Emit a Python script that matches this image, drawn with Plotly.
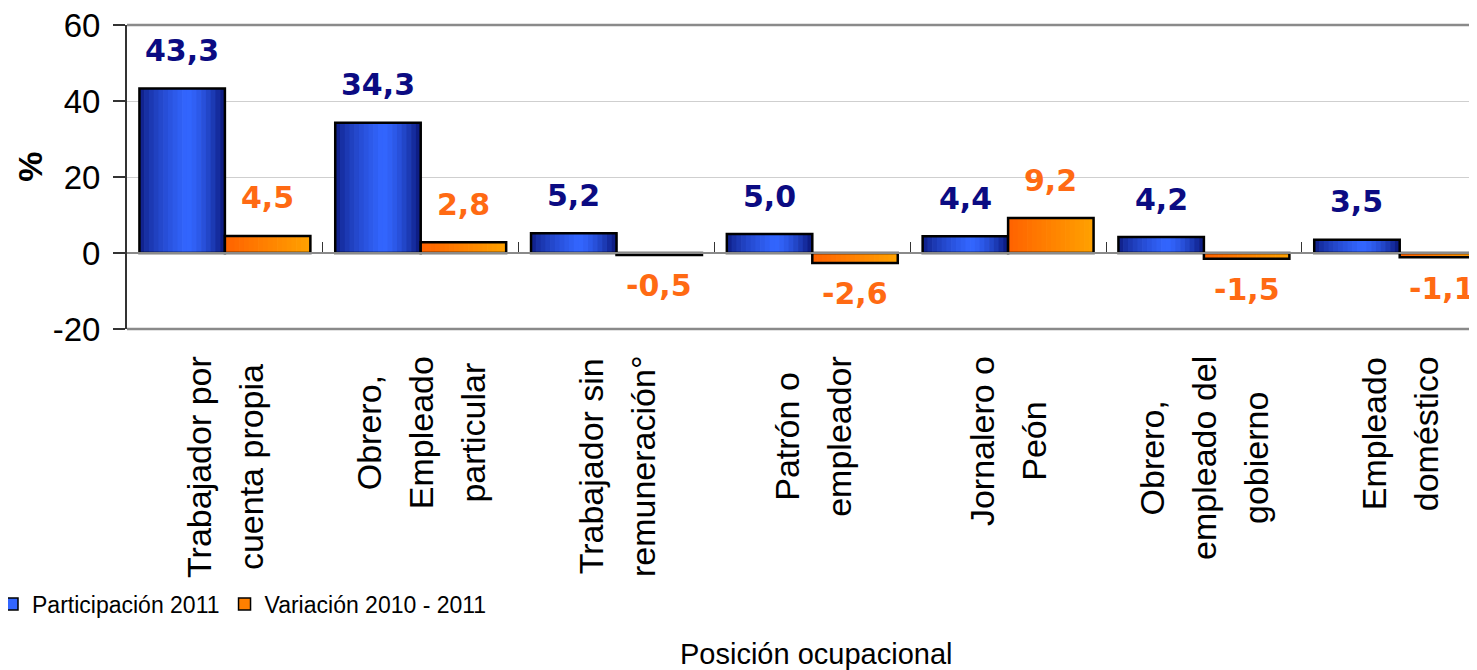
import plotly.graph_objects as go

# datos
categorias = [["Trabajador por", "cuenta propia"], ["Obrero,", "Empleado", "particular"],
              ["Trabajador sin", "remuneración°"], ["Patrón o", "empleador"],
              ["Jornalero o", "Peón"], ["Obrero,", "empleado del", "gobierno"],
              ["Empleado", "doméstico"]]
participacion = [43.3, 34.3, 5.2, 5.0, 4.4, 4.2, 3.5]
variacion = [4.5, 2.8, -0.5, -2.6, 9.2, -1.5, -1.1]
serie_nombres = ["Participación 2011", "Variación 2010 - 2011"]
y_ticks = [-20, 0, 20, 40, 60]
y_ticktext = ["-20", "0", "20", "40", "60"]

idx = list(range(len(categorias)))
W = 0.4365      # ancho de cada barra (unidades de categoria)
N = 18          # franjas para simular el degradado

def hex2rgb(h):
    h = h.lstrip("#")
    return [int(h[i:i + 2], 16) for i in (0, 2, 4)]

def mezcla(c1, c2, t):
    a, b = hex2rgb(c1), hex2rgb(c2)
    return "rgb(%d,%d,%d)" % tuple(round(a[i] + (b[i] - a[i]) * t) for i in range(3))

def color_azul(t):
    # oscuro en los bordes, claro cerca del centro
    pico = 0.55
    if t < pico:
        return mezcla("#0a1678", "#3366ff", (t / pico) ** 0.6)
    return mezcla("#3366ff", "#0a1678", ((t - pico) / (1 - pico)) ** 1.6)

def color_naranja(t):
    return mezcla("#ff6200", "#ffa200", t)

fig = go.Figure()

for serie, base, colfun in [(participacion, -W, color_azul), (variacion, 0.0, color_naranja)]:
    for k in range(N):
        t = (k + 0.5) / N
        fig.add_trace(go.Bar(x=idx, y=serie, width=W / N * 1.15, offset=base + k * W / N,
                             marker=dict(color=colfun(t), line=dict(width=0)),
                             showlegend=False, hoverinfo="skip"))
    # contorno negro
    fig.add_trace(go.Bar(x=idx, y=serie, width=W, offset=base,
                         marker=dict(color="rgba(0,0,0,0)", line=dict(color="black", width=2.5)),
                         showlegend=False, hoverinfo="skip"))

# entradas de leyenda
for nombre, col in zip(serie_nombres, ["#3366ff", "#ff8000"]):
    fig.add_trace(go.Bar(x=[None], y=[None], name=nombre,
                         marker=dict(color=col, line=dict(color="black", width=1.5))))

def fmt(v):
    return ("%.1f" % v).replace(".", ",")

anots = []
for i in idx:
    for serie, dx, col in [(participacion, -W / 2, "#0b0b82"), (variacion, W / 2, "#ff6a13")]:
        v = serie[i]
        anots.append(dict(x=i + dx, y=v, xref="x", yref="y", text=fmt(v), showarrow=False,
                          yanchor="middle", yshift=38 if v >= 0 else -31,
                          font=dict(family="DejaVu Sans", size=30, color=col, weight="bold")))
    # fuente base grande para separar las lineas, texto a 34px
    texto = "<br>".join('<span style="font-size:34px">%s</span>' % s for s in categorias[i])
    anots.append(dict(x=i, y=0, xref="x", yref="paper", text=texto, showarrow=False,
                      textangle=-90, yanchor="top", xanchor="center", yshift=-25, align="center",
                      font=dict(family="Liberation Sans", size=40, color="black")))

anots.append(dict(x=-0.072, y=0.533, xref="paper", yref="paper", text="%", showarrow=False,
                  textangle=-90, xanchor="center", yanchor="middle",
                  font=dict(family="Liberation Sans", size=34, color="black", weight="bold")))
anots.append(dict(x=0.51, y=-1.068, xref="paper", yref="paper", text="Posición ocupacional",
                  showarrow=False, xanchor="center", yanchor="middle",
                  font=dict(family="Liberation Sans", size=29, color="black")))

# la figura queda desplazada 8px en la pagina: se descuentan aqui
fig.update_layout(
    width=1469, height=662,
    margin=dict(l=119, r=0, t=17, b=341, autoexpand=False),
    paper_bgcolor="white", plot_bgcolor="white",
    barmode="overlay",
    annotations=anots,
    shapes=[dict(type="line", xref="paper", yref="paper", x0=0, x1=1, y0=1, y1=1,
                 line=dict(color="#8a8a8a", width=2.5)),
            dict(type="line", xref="paper", yref="paper", x0=0, x1=1, y0=0, y1=0,
                 line=dict(color="#8a8a8a", width=2.5))],
    legend=dict(orientation="h", x=-0.1, xanchor="left", y=-0.905, yanchor="middle",
                font=dict(family="Liberation Sans", size=23, color="black"),
                bgcolor="rgba(0,0,0,0)"),
    showlegend=True,
)

fig.update_yaxes(range=[-20, 60], tickvals=y_ticks, ticktext=y_ticktext,
                 ticks="outside", ticklen=12, tickwidth=1.5,
                 tickcolor="#333", ticklabelstandoff=6, ticklabeloverflow="allow",
                 showline=True, linecolor="#333", linewidth=2,
                 showgrid=True, gridcolor="#cfcfcf", gridwidth=1,
                 zeroline=True, zerolinecolor="#8a8a8a", zerolinewidth=1.5,
                 tickfont=dict(family="Liberation Sans", size=33, color="black"))

fig.update_xaxes(range=[-0.5, -0.5 + 1350 / 195.8], anchor="free",
                 position=(0 - (-20)) / (60 - (-20)),
                 tickvals=[i + 0.5 for i in idx], ticks="inside", ticklen=10, tickwidth=1,
                 tickcolor="#333", showticklabels=False,
                 showline=True, linecolor="#8a8a8a", linewidth=1.5,
                 showgrid=False, zeroline=False)

fig.write_html("out.html")
